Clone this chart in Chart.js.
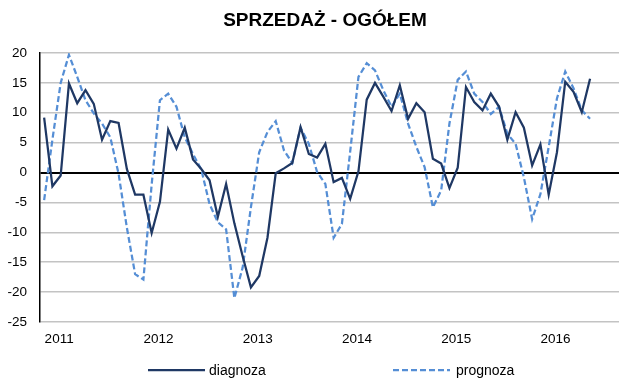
<!DOCTYPE html>
<html lang="pl">
<head>
<meta charset="utf-8">
<title>SPRZEDAŻ - OGÓŁEM</title>
<script src="https://cdn.jsdelivr.net/npm/chart.js@4/dist/chart.umd.min.js"></script>
<style>
  html, body { margin: 0; padding: 0; background: #ffffff; }
  #wrap { width: 630px; height: 381px; }
</style>
</head>
<body>
<div id="wrap"><canvas id="c" width="630" height="381"></canvas></div>
<script>
// Chart heading
const chartTitle = 'SPRZEDAŻ - OGÓŁEM';

// Year labels shown under the first month of each year
const yearLabels = ['2011', '2012', '2013', '2014', '2015', '2016'];

// Monthly categories, Jan 2011 – Oct 2016
const months = [];
for (let y = 2011; y <= 2016; y++) {
  for (let m = 1; m <= 12; m++) {
    if (y === 2016 && m > 10) break;
    months.push(y + '-' + String(m).padStart(2, '0'));
  }
}

// Sales balance: assessment of the current situation
const diagnoza = [
   9.2, -2.3, -0.5, 14.9, 11.6, 13.8, 11.5,  5.5,  8.6,  8.3,  0.6, -3.7,
  -3.7,-10.1, -4.9,  7.2,  4.0,  7.5,  2.2,  0.6, -1.3, -7.4, -1.9, -8.5,
 -14.0,-19.2,-17.3,-10.9, -0.1,  0.7,  1.6,  7.6,  3.1,  2.5,  4.8, -1.6,
  -0.9, -4.4,  0.2, 12.2, 15.0, 12.7, 10.3, 14.6,  9.0, 11.6, 10.1,  2.3,
   1.5, -2.6,  0.8, 14.3, 11.8, 10.4, 13.2, 11.0,  5.5, 10.1,  7.5,  1.2,
   4.7, -3.7,  3.4, 15.2, 13.5, 10.1, 15.7
];

// Sales balance: expectations
const prognoza = [
  -4.6,  5.5, 15.0, 19.7, 16.0, 12.1,  9.9,  8.2,  5.9, -0.2, -9.2,-17.0,
 -17.9, -2.0, 12.1, 13.2, 11.0,  5.9,  3.1,  0.5, -5.3, -8.3, -9.5,-21.0,
 -15.9, -5.8,  3.4,  6.8,  8.6,  3.7,  1.6,  7.5,  4.8,  0.1, -1.9,-10.9,
  -8.6,  3.5, 16.0, 18.3, 17.1, 13.8, 11.0, 13.2,  8.2,  4.3,  0.9, -5.8,
  -3.0,  8.2, 15.5, 16.9, 13.2, 11.8,  9.8, 11.0,  6.5,  4.8, -0.8, -7.8,
  -3.6,  4.3, 12.4, 16.9, 14.1, 10.4,  9.0
];

const FONT = '"Liberation Sans", Arial, Helvetica, sans-serif';

// Heading above the plot and legend below the axis labels
const headingAndLegend = {
  id: 'headingAndLegend',
  afterDraw(chart) {
    const ctx = chart.ctx;
    ctx.save();

    ctx.fillStyle = '#000000';
    ctx.font = 'bold 19px ' + FONT;
    ctx.textAlign = 'center';
    ctx.textBaseline = 'middle';
    ctx.fillText(chartTitle, 325, 21);

    const items = [
      { ds: chart.data.datasets[0], x1: 148, x2: 205, tx: 209 },
      { ds: chart.data.datasets[1], x1: 393, x2: 450, tx: 456 }
    ];
    const y = 370;
    items.forEach(it => {
      ctx.beginPath();
      ctx.strokeStyle = it.ds.borderColor;
      ctx.lineWidth = it.ds.borderWidth;
      ctx.setLineDash(it.ds.borderDash || []);
      ctx.moveTo(it.x1, y);
      ctx.lineTo(it.x2, y);
      ctx.stroke();
      ctx.setLineDash([]);
      ctx.fillStyle = '#000000';
      ctx.font = '14px ' + FONT;
      ctx.textAlign = 'left';
      ctx.textBaseline = 'middle';
      ctx.fillText(it.ds.label, it.tx, y + 1);
    });
    ctx.restore();
  }
};

new Chart(document.getElementById('c'), {
  type: 'line',
  data: {
    labels: months,
    datasets: [
      {
        label: 'diagnoza',
        data: diagnoza,
        borderColor: '#1f3864',
        borderWidth: 2.25,
        pointRadius: 0,
        tension: 0,
        fill: false
      },
      {
        label: 'prognoza',
        data: prognoza,
        borderColor: '#558ed5',
        borderWidth: 2.25,
        borderDash: [6, 3],
        pointRadius: 0,
        tension: 0,
        fill: false
      }
    ]
  },
  options: {
    responsive: false,
    devicePixelRatio: 1,
    animation: false,
    layout: { padding: { left: 0, right: 11, top: 53, bottom: 0 } },
    plugins: {
      legend: { display: false },
      tooltip: { enabled: false },
      title: { display: false }
    },
    scales: {
      x: {
        type: 'category',
        offset: true,
        grid: { display: false, drawTicks: false },
        border: { display: false },
        ticks: {
          autoSkip: false,
          maxRotation: 0,
          minRotation: 0,
          labelOffset: 15,
          padding: 9,
          color: '#000000',
          font: { family: FONT, size: 13.5 },
          callback: (v, i) => (i % 12 === 0 ? yearLabels[i / 12] : '')
        },
        afterFit: s => { s.height = 59; }
      },
      y: {
        min: -25,
        max: 20,
        grid: {
          drawTicks: false,
          lineWidth: c => (c.tick && c.tick.value === 0 ? 2 : 1.5),
          color: c => (c.tick && c.tick.value === 0 ? '#000000' : '#c3c3c3')
        },
        border: { display: true, color: '#000000', width: 1.5 },
        ticks: {
          stepSize: 5,
          padding: 13,
          color: '#000000',
          font: { family: FONT, size: 13.5 }
        },
        afterFit: s => { s.width = 40; }
      }
    }
  },
  plugins: [headingAndLegend]
});
</script>
</body>
</html>
